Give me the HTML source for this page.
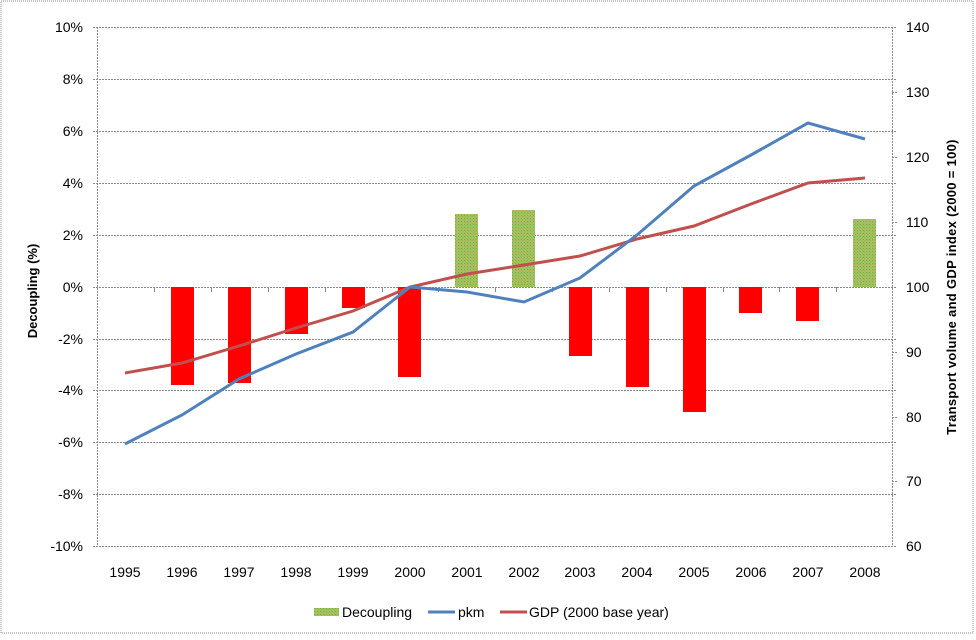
<!DOCTYPE html>
<html><head><style>
body{margin:0;background:#fff}
svg text{font-family:"Liberation Sans",sans-serif;font-size:14px;fill:#000}
</style></head><body>
<svg width="976" height="635" viewBox="0 0 976 635" xmlns="http://www.w3.org/2000/svg">
<defs>
<pattern id="g" width="3" height="3" patternUnits="userSpaceOnUse">
<rect width="3" height="3" fill="#9cc45a"/><rect x="0" y="0" width="1" height="1" fill="#c8a070"/><rect x="2" y="2" width="1" height="1" fill="#7fae48"/>
</pattern>
</defs>
<rect x="1" y="1" width="972" height="632" fill="#fff" stroke="#888" stroke-dasharray="1,1"/>
<g stroke="#888" stroke-width="1" stroke-dasharray="2,1">
<line x1="93" y1="27.5" x2="897" y2="27.5"/>
<line x1="93" y1="79.5" x2="897" y2="79.5"/>
<line x1="93" y1="131.5" x2="897" y2="131.5"/>
<line x1="93" y1="183.5" x2="897" y2="183.5"/>
<line x1="93" y1="235.5" x2="897" y2="235.5"/>
<line x1="93" y1="287.5" x2="897" y2="287.5"/>
<line x1="93" y1="339.5" x2="897" y2="339.5"/>
<line x1="93" y1="390.5" x2="897" y2="390.5"/>
<line x1="93" y1="442.5" x2="897" y2="442.5"/>
<line x1="93" y1="494.5" x2="897" y2="494.5"/>
<line x1="93" y1="546.5" x2="897" y2="546.5"/>
<line x1="97.5" y1="27" x2="97.5" y2="546"/>
<line x1="892.5" y1="27" x2="892.5" y2="546"/>
</g>
<g stroke="#888" stroke-dasharray="2,1">
<line x1="892" y1="92.5" x2="897" y2="92.5"/><line x1="892" y1="157.5" x2="897" y2="157.5"/><line x1="892" y1="222.5" x2="897" y2="222.5"/><line x1="892" y1="352.5" x2="897" y2="352.5"/><line x1="892" y1="417.5" x2="897" y2="417.5"/><line x1="892" y1="481.5" x2="897" y2="481.5"/>
</g>
<g fill="#ff0000">
<rect x="171" y="287" width="23" height="98"/>
<rect x="228" y="287" width="23" height="96"/>
<rect x="285" y="287" width="23" height="47"/>
<rect x="342" y="287" width="23" height="21"/>
<rect x="398" y="287" width="23" height="90"/>
<rect x="569" y="287" width="23" height="69"/>
<rect x="626" y="287" width="23" height="100"/>
<rect x="683" y="287" width="23" height="125"/>
<rect x="739" y="287" width="23" height="26"/>
<rect x="796" y="287" width="23" height="34"/>
</g>
<g fill="url(#g)">
<rect x="455" y="214" width="23" height="73"/>
<rect x="512" y="210" width="23" height="77"/>
<rect x="853" y="219" width="23" height="68"/>
</g>
<g stroke="#888">
<line x1="154.5" y1="287" x2="154.5" y2="292"/><line x1="211.5" y1="287" x2="211.5" y2="292"/><line x1="268.5" y1="287" x2="268.5" y2="292"/><line x1="325.5" y1="287" x2="325.5" y2="292"/><line x1="382.5" y1="287" x2="382.5" y2="292"/><line x1="438.5" y1="287" x2="438.5" y2="292"/><line x1="495.5" y1="287" x2="495.5" y2="292"/><line x1="552.5" y1="287" x2="552.5" y2="292"/><line x1="609.5" y1="287" x2="609.5" y2="292"/><line x1="666.5" y1="287" x2="666.5" y2="292"/><line x1="723.5" y1="287" x2="723.5" y2="292"/><line x1="779.5" y1="287" x2="779.5" y2="292"/><line x1="836.5" y1="287" x2="836.5" y2="292"/>
</g>
<polyline fill="none" stroke="#c0504d" stroke-width="3" points="125,373 182,363 239,346 296,328 353,311 410,287 467,274 524,265 580,256 637,239 694,226 751,204 808,183 865,178"/>
<polyline fill="none" stroke="#4f81bd" stroke-width="3" points="125,444 182,415 239,379 296,354 353,332 410,287 467,292 524,302 580,278 637,235 694,186 751,155 808,123 865,139"/>
<g text-anchor="end">
<text x="83" y="32">10%</text><text x="83" y="84">8%</text><text x="83" y="136">6%</text><text x="83" y="188">4%</text><text x="83" y="240">2%</text><text x="83" y="292">0%</text><text x="83" y="344">-2%</text><text x="83" y="395">-4%</text><text x="83" y="447">-6%</text><text x="83" y="499">-8%</text><text x="83" y="551">-10%</text>
</g>
<g>
<text x="906" y="32">140</text><text x="906" y="97">130</text><text x="906" y="162">120</text><text x="906" y="227">110</text><text x="906" y="292">100</text><text x="906" y="357">90</text><text x="906" y="422">80</text><text x="906" y="486">70</text><text x="906" y="551">60</text>
</g>
<g text-anchor="middle">
<text x="125" y="577">1995</text><text x="182" y="577">1996</text><text x="239" y="577">1997</text><text x="296" y="577">1998</text><text x="353" y="577">1999</text><text x="410" y="577">2000</text><text x="467" y="577">2001</text><text x="524" y="577">2002</text><text x="580" y="577">2003</text><text x="637" y="577">2004</text><text x="694" y="577">2005</text><text x="751" y="577">2006</text><text x="808" y="577">2007</text><text x="865" y="577">2008</text>
</g>
<text transform="translate(37,291) rotate(-90)" text-anchor="middle" font-weight="bold" style="font-size:13px">Decoupling (%)</text>
<text transform="translate(956,287) rotate(-90)" text-anchor="middle" font-weight="bold" style="font-size:13px;letter-spacing:0.3px">Transport volume and GDP index  (2000 = 100)</text>
<rect x="314" y="608" width="25" height="8" fill="url(#g)"/>
<text x="342" y="617">Decoupling</text>
<line x1="428" y1="612" x2="455" y2="612" stroke="#4f81bd" stroke-width="3"/>
<text x="458" y="617">pkm</text>
<line x1="500" y1="612" x2="527" y2="612" stroke="#c0504d" stroke-width="3"/>
<text x="529" y="617">GDP (2000 base year)</text>
</svg>
</body></html>
